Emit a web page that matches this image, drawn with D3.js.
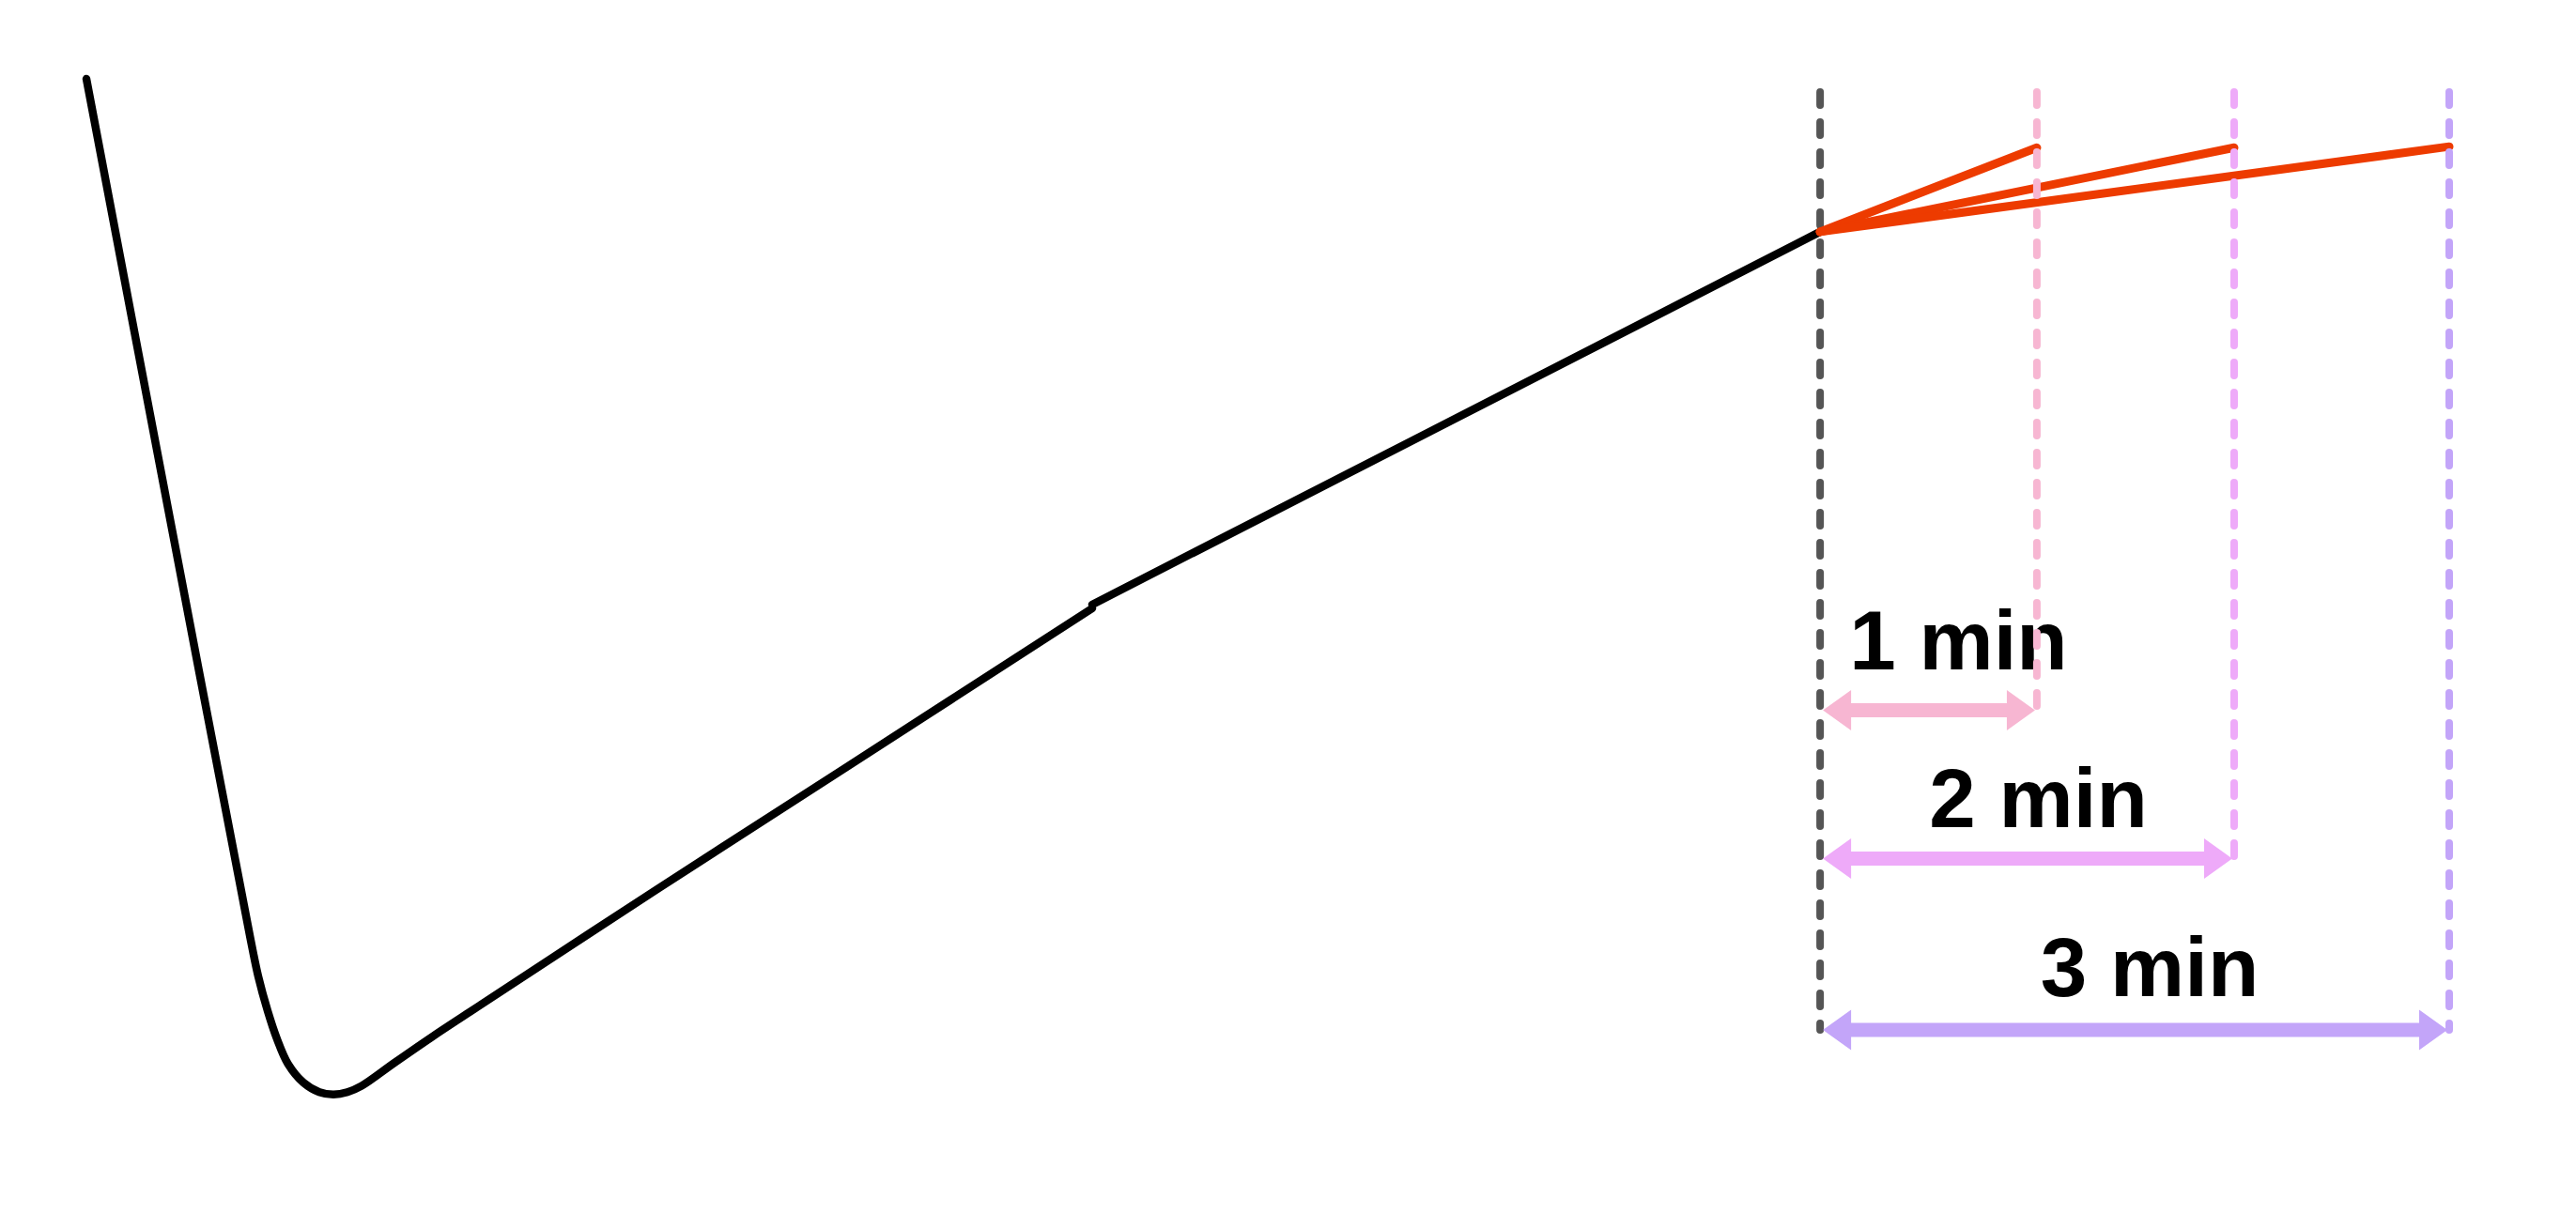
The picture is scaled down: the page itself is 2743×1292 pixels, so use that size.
<!DOCTYPE html>
<html>
<head>
<meta charset="utf-8">
<script src="https://cdn.jsdelivr.net/npm/d3@7"></script>
<style>
  html, body { margin: 0; padding: 0; background: #ffffff; }
  svg { display: block; }
</style>
</head>
<body>
<div id="chart"></div>
<script>
// ---------------- DATA (time in minutes, value in arbitrary units) ----------------
// Main black trace, lower part (fall, dip and first rise)
const traceLowT = [0.0045, 0.3946, 0.7879, 0.8251, 0.8700, 0.9148, 0.9673, 1.0417, 1.1166, 1.1839, 1.2511, 1.3184, 1.4753, 1.6547, 1.8341, 2.7309, 3.6278, 4.8072];
const traceLowV = [99.64, 58.75, 17.86, 14.29, 11.01, 8.33, 5.96, 4.17, 3.28, 3.06, 3.28, 3.87, 6.07, 8.53, 10.89, 22.59, 34.11, 49.29];
// Main black trace, upper part (second rise up to the reference time)
const traceHighT = [4.8072, 8.283];
const traceHighV = [49.65, 85.1];

// Reference time and the three extrapolation horizons
const refTime = 8.283;
const refValue = 85.1;
const horizonLabels = ["1 min", "2 min", "3 min"];
const horizonTimes = [9.318, 10.26, 11.287];
const horizonValues = [93.1, 93.1, 93.2];      // end values of the red extrapolation lines
const horizonArrowLevels = [39.6, 25.5, 9.2];  // value level of each double-headed arrow
const guideTop = 98.4;                          // top of dashed guide lines (value units)

// ---------------- LAYOUT ----------------
const W = 2743, H = 1292;
const x = d3.scaleLinear().domain([0, 12]).range([91, 91 + 12 * 223]);
const y = d3.scaleLinear().domain([0, 100]).range([1200, 80]);

const colors = {
  trace: "#000000",
  red: "#ED3B00",
  refGuide: "#555555",
  horizons: ["#F7B6D2", "#EEAAF9", "#C3A5F9"]
};

const svg = d3.select("#chart").append("svg")
  .attr("width", W).attr("height", H)
  .attr("viewBox", `0 0 ${W} ${H}`);

svg.append("rect").attr("width", W).attr("height", H).attr("fill", "#ffffff");

const dash = "14.2 17.8";
const guideWidth = 8;

// grey reference guide (drawn beneath)
svg.append("line")
  .attr("x1", x(refTime)).attr("x2", x(refTime))
  .attr("y1", y(guideTop)).attr("y2", y(d3.min(horizonArrowLevels)))
  .attr("stroke", colors.refGuide)
  .attr("stroke-width", guideWidth)
  .attr("stroke-linecap", "round")
  .attr("stroke-dasharray", dash);

// black trace
const line = d3.line()
  .x(d => x(d[0])).y(d => y(d[1]))
  .curve(d3.curveCatmullRom.alpha(0.5));

svg.append("path")
  .datum(d3.zip(traceLowT, traceLowV))
  .attr("d", line)
  .attr("fill", "none")
  .attr("stroke", colors.trace)
  .attr("stroke-width", 8.5)
  .attr("stroke-linecap", "round")
  .attr("stroke-linejoin", "round");

svg.append("path")
  .datum(d3.zip(traceHighT, traceHighV))
  .attr("d", d3.line().x(d => x(d[0])).y(d => y(d[1])))
  .attr("fill", "none")
  .attr("stroke", colors.trace)
  .attr("stroke-width", 8.5)
  .attr("stroke-linecap", "round");

// red extrapolation lines
horizonTimes.forEach((t, i) => {
  svg.append("line")
    .attr("x1", x(refTime)).attr("y1", y(refValue))
    .attr("x2", x(t)).attr("y2", y(horizonValues[i]))
    .attr("stroke", colors.red)
    .attr("stroke-width", 9)
    .attr("stroke-linecap", "round");
});

// labels
const labelDx = [32, 12, 16];
const labelDy = [-43, -33, -36];
horizonTimes.forEach((t, i) => {
  const mid = (x(refTime) + x(t)) / 2;
  svg.append("text")
    .attr("x", mid + labelDx[i])
    .attr("y", y(horizonArrowLevels[i]) + labelDy[i])
    .attr("text-anchor", "middle")
    .attr("font-family", "'Liberation Sans', Arial, Helvetica, sans-serif")
    .attr("font-weight", "bold")
    .attr("font-size", 89)
    .attr("fill", "#000000")
    .text(horizonLabels[i]);
});

// double-headed arrows
function arrowPath(x1, x2, yc) {
  const L = 30, HH = 21.5, h = 7.5;
  return [
    [x1, yc], [x1 + L, yc - HH], [x1 + L, yc - h], [x2 - L, yc - h], [x2 - L, yc - HH],
    [x2, yc], [x2 - L, yc + HH], [x2 - L, yc + h], [x1 + L, yc + h], [x1 + L, yc + HH]
  ];
}
horizonTimes.forEach((t, i) => {
  const pts = arrowPath(x(refTime) + 3, x(t) - 2, y(horizonArrowLevels[i]));
  svg.append("path")
    .attr("d", d3.line()(pts) + "Z")
    .attr("fill", colors.horizons[i]);
});

// coloured horizon guides (drawn on top)
horizonTimes.forEach((t, i) => {
  svg.append("line")
    .attr("x1", x(t)).attr("x2", x(t))
    .attr("y1", y(guideTop)).attr("y2", y(horizonArrowLevels[i]))
    .attr("stroke", colors.horizons[i])
    .attr("stroke-width", guideWidth)
    .attr("stroke-linecap", "round")
    .attr("stroke-dasharray", dash);
});
</script>
</body>
</html>
